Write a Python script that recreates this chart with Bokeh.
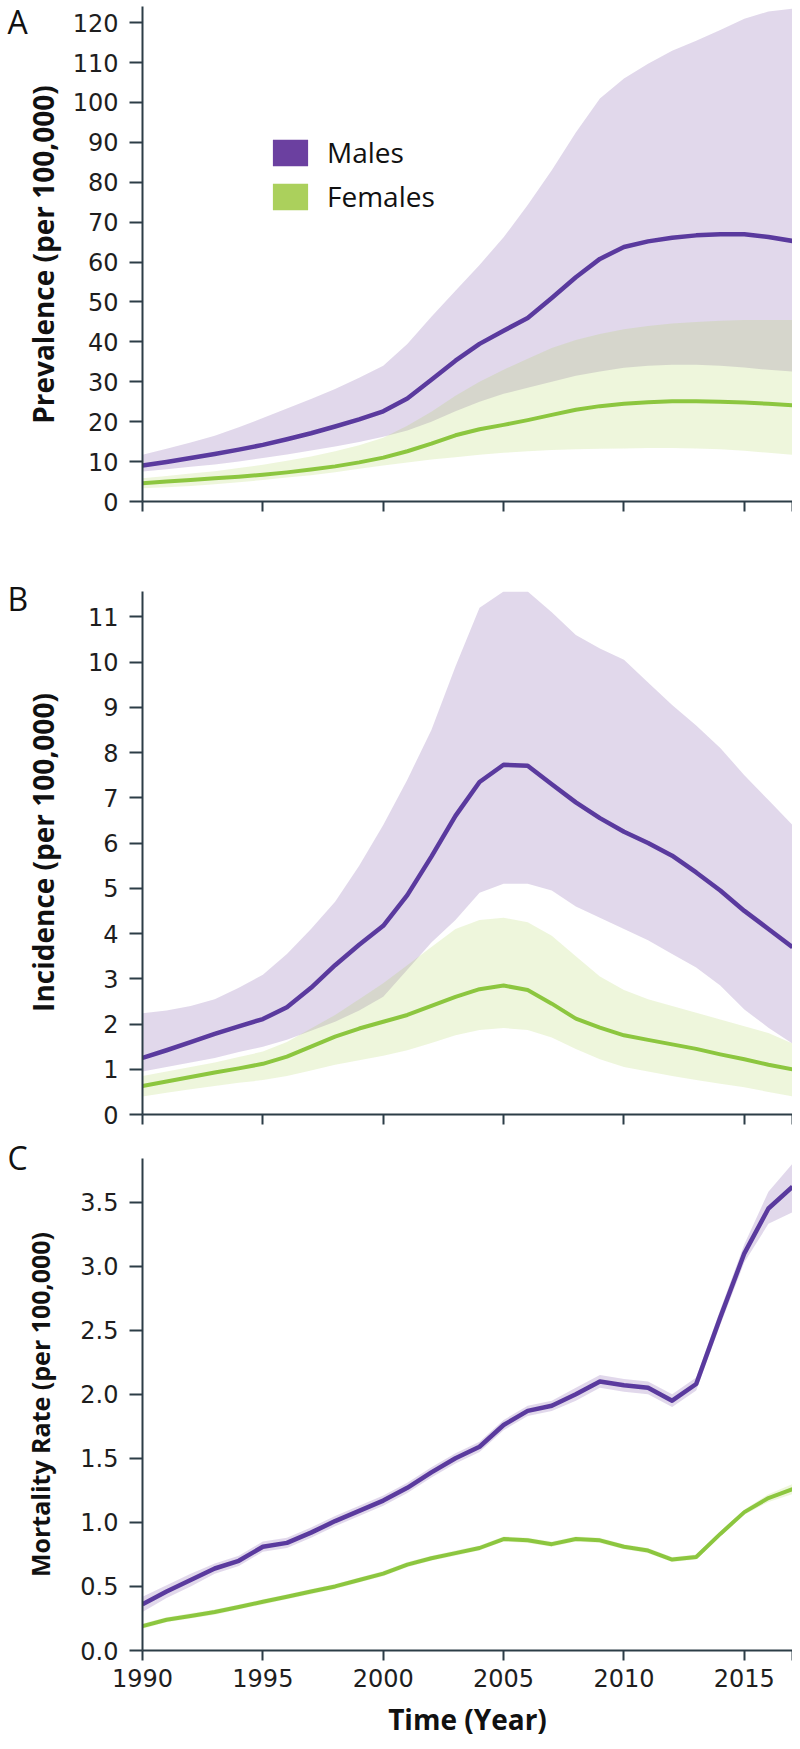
import math
from bokeh.plotting import figure
from bokeh.layouts import column, row
from bokeh.models import (FixedTicker, Label, Legend, LegendItem, Range1d,
                          NumeralTickFormatter)
from bokeh.embed import file_html
from bokeh.resources import INLINE

years = list(range(1990, 2018))
x_ticks = [1990, 1995, 2000, 2005, 2010, 2015, 2017]

# Panel A: prevalence (per 100,000)
prev_male = [9.0, 9.9, 10.9, 11.9, 13.0, 14.2, 15.6, 17.1, 18.8, 20.6, 22.6, 25.8, 30.5, 35.3,
             39.5, 42.8, 46.0, 51.0, 56.2, 60.8, 63.8, 65.2, 66.1, 66.7, 67.0, 67.0, 66.3, 65.3]
prev_male_hi = [11.7, 13.2, 14.8, 16.5, 18.6, 20.9, 23.3, 25.7, 28.2, 31.0, 34.0, 39.5, 46.3, 52.8,
                59.3, 66.2, 74.3, 83.0, 92.5, 101.0, 106.0, 109.7, 113.0, 115.5, 118.2, 121.0, 122.8, 123.5]
prev_male_lo = [7.5, 8.1, 8.7, 9.3, 10.0, 10.9, 11.8, 12.8, 13.8, 14.9, 16.2, 17.8, 20.0, 22.6,
                25.0, 27.0, 28.5, 30.0, 31.5, 32.6, 33.5, 34.0, 34.3, 34.3, 34.0, 33.6, 33.0, 32.6]
prev_female = [4.6, 5.0, 5.4, 5.8, 6.2, 6.7, 7.3, 8.0, 8.8, 9.8, 11.0, 12.6, 14.5, 16.6,
               18.1, 19.2, 20.4, 21.7, 23.0, 23.9, 24.5, 24.9, 25.1, 25.1, 25.0, 24.8, 24.5, 24.1]
prev_female_hi = [5.8, 6.4, 7.0, 7.6, 8.4, 9.2, 10.2, 11.3, 12.6, 14.1, 16.0, 19.0, 22.5, 26.5,
                  30.0, 33.0, 35.8, 38.5, 40.5, 42.0, 43.2, 44.0, 44.6, 45.0, 45.3, 45.5, 45.5, 45.5]
prev_female_lo = [3.3, 3.6, 3.9, 4.3, 4.8, 5.4, 6.0, 6.6, 7.3, 8.2, 9.0, 9.8, 10.5, 11.1,
                  11.7, 12.2, 12.6, 12.9, 13.1, 13.2, 13.3, 13.4, 13.4, 13.3, 13.1, 12.7, 12.2, 11.7]

# Panel B: incidence (per 100,000)
inc_male = [1.25, 1.42, 1.60, 1.78, 1.95, 2.11, 2.37, 2.80, 3.30, 3.75, 4.17, 4.85, 5.70, 6.60,
            7.35, 7.73, 7.71, 7.30, 6.90, 6.55, 6.25, 6.00, 5.72, 5.35, 4.95, 4.50, 4.10, 3.70]
inc_male_hi = [2.24, 2.30, 2.40, 2.55, 2.80, 3.09, 3.55, 4.10, 4.70, 5.50, 6.40, 7.40, 8.50, 9.90,
               11.20, 11.56, 11.56, 11.10, 10.60, 10.30, 10.05, 9.55, 9.05, 8.60, 8.10, 7.50, 6.95, 6.40]
inc_male_lo = [0.95, 1.05, 1.15, 1.25, 1.38, 1.50, 1.65, 1.85, 2.05, 2.30, 2.60, 3.20, 3.80, 4.30,
               4.90, 5.10, 5.10, 4.95, 4.60, 4.35, 4.10, 3.85, 3.55, 3.25, 2.85, 2.32, 1.92, 1.57]
inc_female = [0.63, 0.73, 0.83, 0.93, 1.02, 1.12, 1.28, 1.50, 1.72, 1.90, 2.05, 2.20, 2.40, 2.60,
              2.77, 2.85, 2.75, 2.45, 2.12, 1.92, 1.75, 1.65, 1.55, 1.45, 1.33, 1.22, 1.10, 1.00]
inc_female_hi = [0.85, 0.95, 1.05, 1.15, 1.27, 1.39, 1.60, 1.90, 2.20, 2.55, 2.90, 3.30, 3.70, 4.10,
                 4.30, 4.35, 4.25, 3.95, 3.50, 3.05, 2.75, 2.55, 2.40, 2.25, 2.10, 1.95, 1.80, 1.57]
inc_female_lo = [0.40, 0.48, 0.56, 0.63, 0.70, 0.76, 0.85, 0.97, 1.10, 1.20, 1.30, 1.42, 1.58, 1.75,
                 1.87, 1.91, 1.87, 1.70, 1.45, 1.22, 1.05, 0.95, 0.85, 0.76, 0.68, 0.60, 0.50, 0.40]

# Panel C: mortality rate (per 100,000)
mort_male = [0.36, 0.46, 0.55, 0.64, 0.70, 0.81, 0.84, 0.92, 1.01, 1.09, 1.17, 1.27, 1.39, 1.50,
             1.59, 1.76, 1.87, 1.91, 2.00, 2.10, 2.07, 2.05, 1.95, 2.08, 2.60, 3.10, 3.45, 3.62]
mort_male_hi = [0.42, 0.51, 0.60, 0.68, 0.74, 0.85, 0.88, 0.96, 1.05, 1.13, 1.21, 1.31, 1.43, 1.54,
                1.63, 1.80, 1.91, 1.95, 2.05, 2.15, 2.12, 2.10, 2.00, 2.13, 2.66, 3.17, 3.58, 3.80]
mort_male_lo = [0.30, 0.41, 0.50, 0.60, 0.66, 0.77, 0.80, 0.88, 0.97, 1.05, 1.13, 1.23, 1.35, 1.46,
                1.55, 1.72, 1.83, 1.87, 1.95, 2.05, 2.02, 2.00, 1.90, 2.03, 2.54, 3.03, 3.33, 3.42]
mort_female = [0.19, 0.24, 0.27, 0.30, 0.34, 0.38, 0.42, 0.46, 0.50, 0.55, 0.60, 0.67, 0.72, 0.76,
               0.80, 0.87, 0.86, 0.83, 0.87, 0.86, 0.81, 0.78, 0.71, 0.73, 0.91, 1.08, 1.19, 1.26]
mort_female_hi = [0.21, 0.26, 0.29, 0.32, 0.36, 0.40, 0.44, 0.48, 0.52, 0.57, 0.62, 0.69, 0.74, 0.78,
                  0.82, 0.89, 0.88, 0.85, 0.89, 0.88, 0.83, 0.80, 0.73, 0.75, 0.93, 1.10, 1.22, 1.30]
mort_female_lo = [0.17, 0.22, 0.25, 0.28, 0.32, 0.36, 0.40, 0.44, 0.48, 0.53, 0.58, 0.65, 0.70, 0.74,
                  0.78, 0.85, 0.84, 0.81, 0.85, 0.84, 0.79, 0.76, 0.69, 0.71, 0.89, 1.06, 1.16, 1.22]

prev_ticks = list(range(0, 121, 10))
inc_ticks = list(range(0, 12))
mort_ticks = [0.0, 0.5, 1.0, 1.5, 2.0, 2.5, 3.0, 3.5]

panel_letters = ["A", "B", "C"]
y_titles = ["Prevalence (per 100,000)", "Incidence (per 100,000)", "Mortality Rate (per 100,000)"]
series_names = ["Males", "Females"]

MALE_LINE = "#5a3a9e"
FEMALE_LINE = "#8cc63f"
MALE_FILL = "#6a3d9a"
FEMALE_FILL = "#a8d050"
MALE_KEY = "#6b40a0"
FEMALE_KEY = "#abd05c"
AXIS = "#2c3d47"
TICK_FONT = "DejaVu Sans"
TITLE_FONT = "Open Sans"

PAGE_H = 1749
STRIP_W = 68
MAIN_W = 724
LEFT = 74


def panel(height, border_top, border_bottom, y_end, yticks, series, show_x_labels):
    p = figure(width=MAIN_W, height=height, x_range=Range1d(1990, 2017),
               y_range=Range1d(0, y_end), output_backend="svg", toolbar_location=None,
               min_border_left=LEFT, min_border_right=0, min_border_top=border_top,
               min_border_bottom=border_bottom)
    p.outline_line_color = None
    p.xgrid.grid_line_color = None
    p.ygrid.grid_line_color = None

    (m, mhi, mlo, f, fhi, flo) = series
    p.varea(x=years, y1=mlo, y2=mhi, fill_color=MALE_FILL, fill_alpha=0.2)
    p.varea(x=years, y1=flo, y2=fhi, fill_color=FEMALE_FILL, fill_alpha=0.2)
    p.line(years, f, line_color=FEMALE_LINE, line_width=4, line_join="round")
    p.line(years, m, line_color=MALE_LINE, line_width=4.5, line_join="round")

    for ax in (p.xaxis[0], p.yaxis[0]):
        ax.axis_line_color = AXIS
        ax.axis_line_width = 2
        ax.major_tick_line_color = AXIS
        ax.major_tick_line_width = 2
        ax.major_tick_in = 0
        ax.minor_tick_line_color = None
        ax.major_label_text_font = TICK_FONT
        ax.major_label_text_font_size = "24px"
        ax.major_label_text_color = "#1e1e1e"

    xa = p.xaxis[0]
    xa.ticker = FixedTicker(ticks=x_ticks)
    xa.major_tick_out = 10
    xa.major_label_standoff = 8
    if show_x_labels:
        xa.major_label_overrides = {2017: ""}
        xa.axis_label = "Time (Year)"
        xa.axis_label_text_font = TITLE_FONT
        xa.axis_label_text_font_style = "bold"
        xa.axis_label_text_font_size = "28px"
        xa.axis_label_text_color = "#111111"
        xa.axis_label_standoff = 10
    else:
        xa.major_label_overrides = {t: "" for t in x_ticks}

    ya = p.yaxis[0]
    ya.ticker = FixedTicker(ticks=yticks)
    ya.major_tick_out = 13
    ya.major_label_standoff = 11
    return p


pA = panel(550, 6, 49, 124.06, prev_ticks,
           (prev_male, prev_male_hi, prev_male_lo, prev_female, prev_female_hi, prev_female_lo),
           False)

rm = pA.quad(left=[1900], right=[1901], top=[1], bottom=[0], fill_color=MALE_KEY, line_color=None)
rf = pA.quad(left=[1900], right=[1901], top=[1], bottom=[0], fill_color=FEMALE_KEY, line_color=None)
legend = Legend(items=[LegendItem(label=series_names[0], renderers=[rm]),
                       LegendItem(label=series_names[1], renderers=[rf])],
                location=(126, 286), padding=0, margin=0, spacing=6,
                glyph_width=44, glyph_height=33, label_height=33, label_standoff=15,
                label_text_font=TITLE_FONT, label_text_font_size="28px",
                label_text_color="#111111", border_line_color=None,
                background_fill_alpha=0)
pA.add_layout(legend)

pB = panel(590, 41, 26, 11.56, inc_ticks,
           (inc_male, inc_male_hi, inc_male_lo, inc_female, inc_female_hi, inc_female_lo),
           False)

pC = panel(609, 18, 99, 3.84, mort_ticks,
           (mort_male, mort_male_hi, mort_male_lo, mort_female, mort_female_hi, mort_female_lo),
           True)
pC.yaxis[0].formatter = NumeralTickFormatter(format="0.0")

# left strip: panel letters and the rotated y-axis titles
strip = figure(width=STRIP_W, height=PAGE_H, x_range=Range1d(0, STRIP_W),
               y_range=Range1d(0, PAGE_H), output_backend="svg", toolbar_location=None,
               x_axis_location=None, y_axis_location=None, min_border=0)
strip.outline_line_color = None
strip.xgrid.grid_line_color = None
strip.ygrid.grid_line_color = None
for txt, yc in zip(panel_letters, [21, 598, 1157]):
    strip.add_layout(Label(x=7, y=PAGE_H - yc, text=txt, text_font=TITLE_FONT,
                           text_font_size="32px", text_color="#111111",
                           text_baseline="middle", text_align="left"))
for txt, xc, yc, fs in zip(y_titles, [42, 42, 39], [254, 852, 1404], ["28px", "28px", "25px"]):
    strip.add_layout(Label(x=xc, y=PAGE_H - yc, text=txt, angle=math.pi / 2,
                           text_font=TITLE_FONT, text_font_style="bold",
                           text_font_size=fs, text_color="#111111",
                           text_baseline="middle", text_align="center"))

layout = row(strip, column(pA, pB, pC, spacing=0), spacing=0)
open("out.html", "w").write(file_html(layout, INLINE))
